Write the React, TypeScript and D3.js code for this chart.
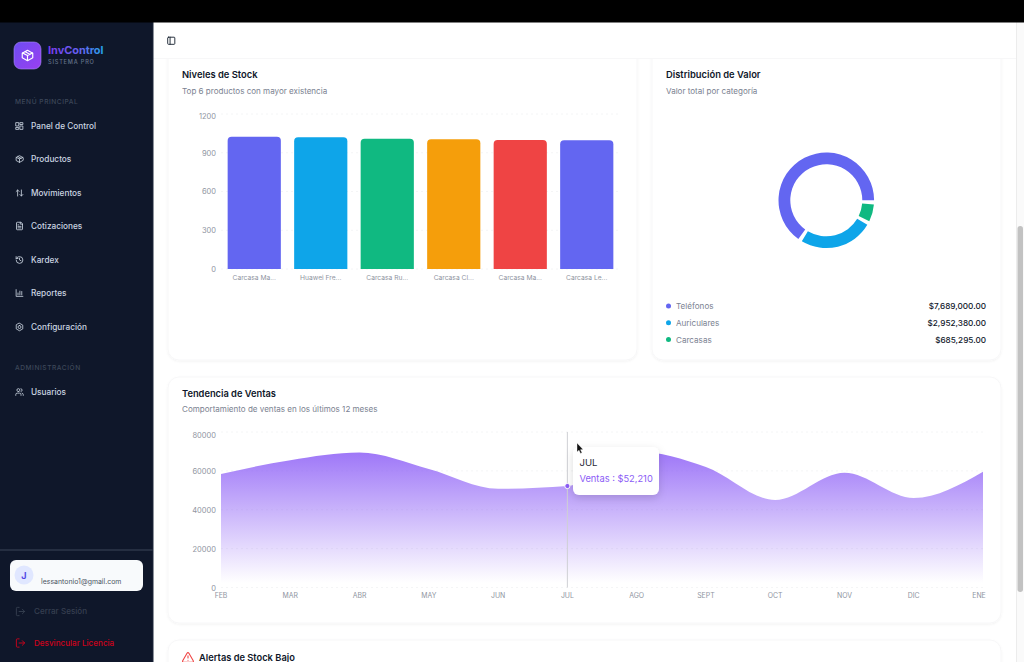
import React from "react";
import * as d3 from "d3";

const FONT = "Inter, 'Noto Sans', sans-serif";

const stockNames = ["Carcasa Ma...", "Huawei Fre...", "Carcasa Ru...", "Carcasa Cl...", "Carcasa Ma...", "Carcasa Le..."];
const stockValues = [1024, 1020, 1008, 1004, 998, 997];
const stockColors = ["#6366f1", "#0ea5e9", "#10b981", "#f59e0b", "#ef4444", "#6366f1"];
const stockTicks = [0, 300, 600, 900, 1200];

const valueCategories = ["Teléfonos", "Auriculares", "Carcasas"];
const valueAmounts = [7689000, 2952380, 685295];
const valueColors = ["#6366f1", "#0ea5e9", "#10b981"];

const months = ["FEB", "MAR", "ABR", "MAY", "JUN", "JUL", "AGO", "SEPT", "OCT", "NOV", "DIC", "ENE"];
const sales = [58400, 65500, 69400, 61000, 50800, 52210, 70000, 62000, 45000, 59000, 46000, 59500];
const salesTicks = [0, 20000, 40000, 60000, 80000];

const menuLabels = ["Panel de Control", "Productos", "Movimientos", "Cotizaciones", "Kardex", "Reportes", "Configuración"];
const menuIcons = [
  "M3 3h7v9H3zM14 3h7v5h-7zM14 12h7v9h-7zM3 16h7v5H3z",
  "M21 8 12 3 3 8v8l9 5 9-5zM3.3 7.5 12 12l8.7-4.5M12 12v9M7.5 5.3l9 5",
  "m21 16-4 4-4-4M17 20V4M3 8l4-4 4 4M7 4v16",
  "M15 2H6a2 2 0 0 0-2 2v16a2 2 0 0 0 2 2h12a2 2 0 0 0 2-2V7zM14 2v5h6M16 13H8M16 17H8M10 9H8",
  "M3 12a9 9 0 1 0 9-9 9.75 9.75 0 0 0-6.74 2.74L3 8M3 3v5h5M12 7v5l4 2",
  "M3 3v18h18M8 17v-5M13 17V7M18 17v-9",
  "M12 2l8.7 5v10L12 22l-8.7-5V7zM12 8a4 4 0 1 0 0 8 4 4 0 0 0 0-8z",
];
const menuY = [126, 159, 193, 226, 260, 293, 327];
const usersIcon = "M16 21v-2a4 4 0 0 0-4-4H6a4 4 0 0 0-4 4v2M9 11a4 4 0 1 0 0-8 4 4 0 0 0 0 8M22 21v-2a4 4 0 0 0-3-3.87M16 3.13a4 4 0 0 1 0 7.75";
const logoutIcon = "M9 21H5a2 2 0 0 1-2-2V5a2 2 0 0 1 2-2h4M16 17l5-5-5-5M21 12H9";
const alertIcon = "m21.7 18-8-14a2 2 0 0 0-3.5 0l-8 14A2 2 0 0 0 4 21h16a2 2 0 0 0 1.7-3M12 9v4M12 17h.01";
const panelIcon = "M5 3h14a2 2 0 0 1 2 2v14a2 2 0 0 1-2 2H5a2 2 0 0 1-2-2V5a2 2 0 0 1 2-2zM9 3v18";

const Icon = ({ d, x, y, s = 12, color = "#cbd5e1", w = 2 }: any) => (
  <path d={d} transform={`translate(${x},${y}) scale(${s / 24})`} fill="none" stroke={color} strokeWidth={w} strokeLinecap="round" strokeLinejoin="round" />
);

const Card = ({ x, y, w, h }: any) => (
  <rect x={x} y={y} width={w} height={h} rx={11} fill="#fff" stroke="#f7f7f8" strokeWidth={1} filter="url(#cardShadow)" />
);

function topRoundedBar(x: number, y: number, w: number, base: number, r: number) {
  const p = d3.path();
  p.moveTo(x, base);
  p.lineTo(x, y + r);
  p.arcTo(x, y, x + r, y, r);
  p.lineTo(x + w - r, y);
  p.arcTo(x + w, y, x + w, y + r, r);
  p.lineTo(x + w, base);
  p.closePath();
  return p.toString();
}

export default function App() {
  // Stock chart
  const sx = d3.scaleBand<string>().domain(stockNames.map((_, i) => String(i))).range([221, 620]).paddingInner(0.2).paddingOuter(0.1);
  const sy = d3.scaleLinear().domain([0, 1200]).range([269, 114]);

  // Donut
  const pieGen = d3.pie<number>().sort(null).startAngle(Math.PI / 2).endAngle(Math.PI / 2 - 2 * Math.PI).padAngle((5 * Math.PI) / 180);
  const slices = pieGen(valueAmounts);
  const arcGen = d3.arc<any>().innerRadius(36).outerRadius(47.8);

  // Sales chart
  const tx = d3.scalePoint<string>().domain(months).range([221, 983]);
  const ty = d3.scaleLinear().domain([0, 80000]).range([587.5, 432]);
  const salesPts: [number, number][] = sales.map((v, i) => [tx(months[i]) as number, v]);
  const areaGen = d3.area<[number, number]>().x((d) => d[0]).y0(ty(0)).y1((d) => ty(d[1])).curve(d3.curveMonotoneX);
  const jul = months.indexOf("JUL");
  const julX = tx("JUL") as number;
  const julY = ty(sales[jul]);

  return (
    <svg width={1024} height={662} viewBox="0 0 1024 662" style={{ position: "absolute", left: 0, top: 0, display: "block", fontFamily: FONT }}>
      <defs>
        <linearGradient id="salesFill" gradientUnits="userSpaceOnUse" x1="0" y1={445} x2="0" y2={583}>
          <stop offset="0%" stopColor="#8b5cf6" stopOpacity={0.88} />
          <stop offset="100%" stopColor="#8b5cf6" stopOpacity={0} />
        </linearGradient>
        <linearGradient id="brand" gradientUnits="userSpaceOnUse" x1="48" y1="0" x2="104" y2="0">
          <stop offset="0%" stopColor="#7c3aed" />
          <stop offset="60%" stopColor="#6366f1" />
          <stop offset="100%" stopColor="#22a7e8" />
        </linearGradient>
        <linearGradient id="logoFill" x1="0" y1="0" x2="1" y2="1">
          <stop offset="0%" stopColor="#6d4df2" />
          <stop offset="100%" stopColor="#9a3ff0" />
        </linearGradient>
        <filter id="cardShadow" x="-5%" y="-5%" width="110%" height="110%">
          <feDropShadow dx="0" dy="1" stdDeviation="1" floodColor="#000" floodOpacity="0.05" />
        </filter>
        <filter id="tipShadow" x="-30%" y="-30%" width="160%" height="170%">
          <feDropShadow dx="0" dy="3" stdDeviation="4" floodColor="#000" floodOpacity="0.14" />
        </filter>
      </defs>

      <rect x={0} y={0} width={1024} height={662} fill="#ffffff" />

      {/* Cards */}
      <Card x={168} y={40} w={469} h={320} />
      <Card x={652} y={40} w={349} h={320} />
      <Card x={168} y={377} w={833} h={246} />
      <Card x={168} y={640} w={833} h={60} />

      {/* Top bar */}
      <rect x={153} y={22} width={871} height={36} fill="#ffffff" />
      <line x1={153} x2={1016} y1={58.5} y2={58.5} stroke="#f7f7f8" />
      <Icon d={panelIcon} x={166.5} y={36} s={9.5} color="#1f2937" w={2.4} />

      {/* Stock chart */}
      <text x={182} y={78} fontSize={9.4} fontWeight={600} fill="#0f172a">Niveles de Stock</text>
      <text x={182} y={93.5} fontSize={8.05} fill="#7b8291">Top 6 productos con mayor existencia</text>
      {stockTicks.map((t) => (
        <g key={t}>
          <line x1={221} x2={620} y1={sy(t)} y2={sy(t)} stroke="#f4f5f6" strokeDasharray="2 3" />
          <text x={216} y={sy(t) + (t === 1200 ? 4.8 : 2.8)} textAnchor="end" fontSize={7.5} fill="#8f95a1">{t}</text>
        </g>
      ))}
      {stockValues.map((v, i) => (
        <path key={i} d={topRoundedBar(sx(String(i)) as number, sy(v), sx.bandwidth(), sy(0), 4)} fill={stockColors[i]} />
      ))}
      {stockNames.map((n, i) => (
        <text key={i} x={(sx(String(i)) as number) + sx.bandwidth() / 2} y={280} textAnchor="middle" fontSize={6.7} fill="#8f95a1">{n}</text>
      ))}

      {/* Donut */}
      <text x={666} y={78} fontSize={9.4} fontWeight={600} fill="#0f172a">Distribución de Valor</text>
      <text x={666} y={93.5} fontSize={8.05} fill="#7b8291">Valor total por categoría</text>
      <g transform="translate(826.3,200.3)">
        {slices.map((s, i) => {
          const a0 = s.startAngle;
          const a1 = s.endAngle + Math.abs(s.padAngle);
          return <path key={i} d={arcGen({ startAngle: a0, endAngle: a1 }) as string} fill={valueColors[i]} />;
        })}
      </g>
      {valueCategories.map((c, i) => {
        const y = 306 + i * 16.8;
        return (
          <g key={c}>
            <circle cx={668.5} cy={y} r={2.5} fill={valueColors[i]} />
            <text x={676} y={y + 3} fontSize={8.1} fill="#7b8291">{c}</text>
            <text x={986} y={y + 3} textAnchor="end" fontSize={8.2} fontWeight={500} fill="#0f172a">
              {"$" + d3.format(",.2f")(valueAmounts[i])}
            </text>
          </g>
        );
      })}

      {/* Sales chart */}
      <text x={182} y={396.5} fontSize={9.3} fontWeight={600} fill="#0f172a">Tendencia de Ventas</text>
      <text x={182} y={412} fontSize={8.05} fill="#7b8291">Comportamiento de ventas en los últimos 12 meses</text>
      {salesTicks.map((t) => (
        <g key={t}>
          <line x1={221} x2={985} y1={ty(t)} y2={ty(t)} stroke="#f4f5f6" strokeDasharray="2 3" />
          <text x={216} y={ty(t) + (t === 80000 ? 5.5 : 3.2)} textAnchor="end" fontSize={7.5} fill="#8f95a1">{t}</text>
        </g>
      ))}
      <path d={areaGen(salesPts) as string} fill="url(#salesFill)" />
      {months.map((m, i) => (
        <text key={m} x={i === months.length - 1 ? 979 : (tx(m) as number)} y={598} textAnchor="middle" fontSize={6.9} fill="#8f95a1">{m}</text>
      ))}
      <line x1={julX} x2={julX} y1={432} y2={587.5} stroke="#cfd0d4" strokeWidth={1} />
      <circle cx={julX} cy={julY} r={2.6} fill="#8b5cf6" stroke="#fff" strokeWidth={1} />
      <rect x={573} y={447} width={86} height={48} rx={6} fill="#fff" filter="url(#tipShadow)" />
      <text x={579.5} y={465.5} fontSize={9.6} fill="#1f2937">JUL</text>
      <text x={579.5} y={482} fontSize={9.3} fill="#8b5cf6">{"Ventas : $" + d3.format(",")(sales[jul])}</text>
      {/* Cursor */}
      <path d="M577 443 l0 9 l2 -1.8 l1.5 3.2 l1.5 -.7 l-1.5 -3 l2.6 -.2 z" fill="#111" stroke="#fff" strokeWidth={0.4} />

      {/* Alerts */}
      <Icon d={alertIcon} x={181.5} y={651} s={13} color="#ef4444" w={2} />
      <text x={199} y={661} fontSize={9.3} fontWeight={600} fill="#0f172a">Alertas de Stock Bajo</text>

      {/* Scrollbar */}
      <rect x={1016} y={22} width={8} height={640} fill="#fafafa" />
      <line x1={1016.5} x2={1016.5} y1={22} y2={662} stroke="#ececec" />
      <rect x={1017.5} y={226} width={5.5} height={366} rx={2.7} fill="#c2c2c2" />

      {/* Sidebar */}
      <rect x={0} y={22} width={153} height={640} fill="#0f172a" />
      <rect x={14} y={42} width={27} height={27} rx={7} fill="url(#logoFill)" stroke="#a78bfa" strokeWidth={0.6} />
      <Icon d={menuIcons[1]} x={20.5} y={48.5} s={14} color="#ffffff" w={2} />
      <text x={48} y={54} fontSize={10.9} fontWeight={700} fill="url(#brand)">InvControl</text>
      <text x={48} y={64} fontSize={5.6} fontWeight={500} letterSpacing={0.8} fill="#64748b">SISTEMA PRO</text>
      <text x={15} y={104} fontSize={6.6} fontWeight={500} letterSpacing={0.55} fill="#3d4759">MENÚ PRINCIPAL</text>
      {menuLabels.map((l, i) => (
        <g key={l}>
          <Icon d={menuIcons[i]} x={15} y={menuY[i] - 4.5} s={9} color="#cbd5e1" w={2.2} />
          <text x={31} y={menuY[i] + 3} fontSize={8.25} fontWeight={500} fill="#cbd5e1">{l}</text>
        </g>
      ))}
      <text x={15} y={370} fontSize={6.6} fontWeight={500} letterSpacing={0.55} fill="#3d4759">ADMINISTRACIÓN</text>
      <Icon d={usersIcon} x={15} y={387.5} s={9} color="#cbd5e1" w={2.2} />
      <text x={31} y={395} fontSize={8.25} fontWeight={500} fill="#cbd5e1">Usuarios</text>

      <line x1={0} x2={153} y1={550} y2={550} stroke="#3d4658" strokeWidth={1.2} />
      <rect x={10} y={560} width={133} height={31} rx={6} fill="#f8fafc" />
      <circle cx={24} cy={575} r={9.5} fill="#e0e7ff" />
      <text x={24} y={578.5} textAnchor="middle" fontSize={9} fontWeight={700} fill="#4f46e5">J</text>
      <text x={41} y={584} fontSize={6.95} fill="#4b5563">lessantonio1@gmail.com</text>

      <Icon d={logoutIcon} x={15} y={606} s={11} color="#363f50" w={2} />
      <text x={34} y={614} fontSize={8.1} fontWeight={500} fill="#363f50">Cerrar Sesión</text>
      <Icon d={logoutIcon} x={15} y={637.5} s={11} color="#d0021b" w={2} />
      <text x={34} y={646} fontSize={8.1} fontWeight={500} fill="#d0021b">Desvincular Licencia</text>
      <line x1={153} x2={153} y1={22} y2={662} stroke="#1e293b" />

      {/* Black top band */}
      <rect x={0} y={0} width={1024} height={22.5} fill="#000" />
    </svg>
  );
}
